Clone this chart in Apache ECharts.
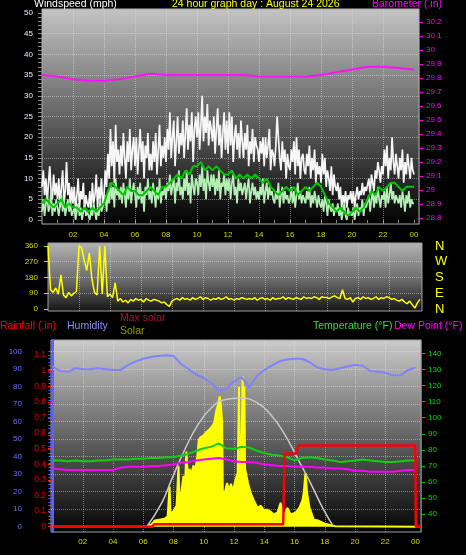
<!DOCTYPE html>
<html><head><meta charset="utf-8">
<script src="https://cdn.jsdelivr.net/npm/echarts@6/dist/echarts.min.js"></script>
<style>html,body{margin:0;padding:0;background:#000;}#c{width:466px;height:555px;}</style>
</head><body><div id="c"></div>
<script>
// ---------- DATA ----------
const hourLabels = [2,4,6,8,10,12,14,16,18,20,22,24];
const hourGridLines = [2,4,6,8,10,12,14,16,18,20,22];

// wind gust (mph), every 5 minutes from 00:00
const windGust = [
 8,12,6,10,4,9,13,7,5,11,6,9,
 5,10,3,8,12,4,7,14,6,9,3,8,
 4,8,2,6,10,3,7,5,9,2,6,4,
 3,7,2,9,4,6,11,3,8,5,10,4,
 6,12,8,16,10,22,13,19,9,23,14,17,
 11,18,13,21,15,10,19,14,22,12,17,20,
 13,20,11,17,22,14,19,10,18,15,21,12,
 16,12,19,14,21,11,17,23,13,18,15,20,
 14,22,17,26,15,20,24,13,19,25,16,21,
 18,24,15,21,27,17,23,19,26,14,22,25,
 20,26,17,23,30,19,25,21,28,18,24,22,
 19,25,16,22,27,18,23,15,21,26,17,24,
 16,26,18,25,14,20,23,17,21,15,24,19,
 15,21,17,23,13,19,16,22,14,20,18,17,
 14,19,16,20,13,20,15,18,22,12,17,16,
 13,18,25,20,15,12,19,14,17,10,16,13,
 12,17,14,19,11,20,13,17,10,15,16,12,
 11,16,13,18,10,15,12,17,9,14,11,13,
 9,16,11,15,8,12,10,7,13,6,11,8,
 7,9,5,8,3,6,4,7,3,6,5,7,
 4,7,3,6,8,5,7,6,9,6,8,7,
 7,10,6,11,9,7,12,10,14,12,9,13,
 11,17,13,18,10,15,12,20,14,11,16,13,
 10,15,12,17,9,14,11,16,13,10,15,12,
 11];

// wind speed (mph), every 5 minutes
const windSpeed = [
 2,5,1,4,6,2,3,7,1,4,2,5,
 3,1,4,6,2,5,1,3,5,2,4,1,
 1,3,0,2,4,1,3,0,2,4,1,2,
 2,0,3,1,4,2,0,3,1,5,2,3,
 3,6,2,7,4,9,5,8,3,10,6,7,
 5,8,4,9,6,3,8,5,10,4,7,9,
 6,3,8,5,9,4,7,2,8,6,10,5,
 7,4,9,6,3,8,5,10,4,7,6,8,
 5,9,7,11,6,8,10,4,9,7,12,6,
 8,5,10,7,12,6,9,4,11,8,6,10,
 9,6,11,8,13,7,10,5,12,9,7,11,
 8,11,6,10,7,12,5,9,8,11,6,10,
 7,10,5,9,11,6,8,4,10,7,9,6,
 6,9,5,8,10,4,7,9,6,8,5,7,
 5,8,6,10,4,7,9,5,8,6,7,5,
 4,7,5,9,3,6,8,4,7,5,6,4,
 5,8,4,7,3,6,9,5,7,4,6,5,
 4,7,5,8,3,6,4,7,5,3,6,4,
 3,5,2,6,4,1,5,3,2,4,1,3,
 2,4,1,3,0,2,4,1,0,3,1,2,
 1,3,0,2,4,1,3,2,5,1,4,3,
 3,6,2,5,7,3,6,4,8,5,3,6,
 5,7,3,8,4,6,9,5,7,4,6,5,
 4,6,3,7,5,2,6,4,7,3,5,4,
 4];

// average wind (mph), every 15 minutes
const windAvg = [
 4,5,4,3, 4,5,3,4, 3,3,2,3, 2,3,2,3,
 4,7,9,8, 7,6,8,7, 7,6,6,7, 8,7,6,8,
 8,9,10,11, 10,12,11,13, 13,14,12,13, 12,13,12,11,
 11,12,10,11, 10,11,10,11, 10,9,10,8, 7,6,7,8,
 7,8,6,7, 8,7,8,9, 8,6,4,3, 2,3,2,1,
 2,3,2,3, 5,7,6,8, 7,8,9,9, 8,7,8,8,
 8];

// barometer (in), hourly
const baro = [29.82,29.81,29.79,29.78,29.78,29.79,29.81,29.83,29.82,29.82,29.82,29.82,
 29.82,29.82,29.81,29.81,29.81,29.81,29.82,29.84,29.86,29.88,29.88,29.87,29.86];

// wind direction (deg), every 10 minutes
const windDir = [
 360,110,95,120,85,195,
 80,65,95,75,90,100,
 360,350,280,220,320,170,
 95,80,360,85,360,70,
 85,65,150,45,60,40,
 50,35,55,45,60,50,
 55,40,60,50,45,55,
 50,45,35,40,25,15,
 45,55,60,50,65,55,
 60,50,65,55,60,70,
 55,65,60,50,60,55,
 65,55,60,70,55,60,
 50,60,55,65,60,55,
 60,55,65,50,60,65,
 55,60,50,65,55,60,
 60,70,55,65,60,55,
 65,60,55,70,60,65,
 60,70,65,55,70,65,
 65,60,70,75,65,60,
 110,60,55,65,40,60,
 65,55,70,60,65,55,
 60,70,55,65,60,70,
 65,55,60,50,45,55,
 40,30,45,25,5,35,
 55];

// humidity (%), temperature and dew point (F), every 30 minutes
const humidity = [91.5,89,88.5,90.5,90,90,90.5,90,89.5,89.5,92.5,94.5,96,97,97.5,98,97.5,93,90,87,
 85,82,78,79,83,85.5,79.5,86,89.5,92,94.5,95.5,96,96,94,91,90,89.5,90.5,91.5,
 92.5,92,89,88.5,88,86.5,86.5,89.5,91];
const temperature = [73.5,73.5,73,73.5,73,73,73.5,73.5,74,74,74,74.5,74.5,75,75,75.5,75.5,76.5,77.5,79.5,
 81,82,84,81,80.5,82,81.5,79.5,78,77,76.5,75.5,73.5,75,75.5,75,74,73.5,72.5,73,
 73.5,74,73.5,73,72.5,72.5,73,73.5,73.5];
const dewPoint = [68.5,68,67.5,67.5,67.5,67.5,67.5,67.5,67.5,69,69.5,69.5,69.5,70,70,70.5,71,72,72.5,73.5,
 74,74.5,75,74,73,72.5,72.5,72,71,70.5,70,70,69.5,69.5,69.5,69,69,68.5,68.5,68,
 67,67,66.5,66.5,66.5,66.5,67,67.5,67.5];

// rainfall (in)
const rainTimes  = [0, 6.6, 6.7, 15.25, 15.35, 16.1, 16.25, 23.98, 24.02, 24.36];
const rainValues = [0, 0, 0.015, 0.015, 0.47, 0.47, 0.52, 0.52, 0, 0];

// solar radiation (W/m2)
const solarTimes = [0,6.23,6.36,6.56,6.75,7.08,7.41,7.61,7.74,7.8,8.0,8.2,8.33,8.39,8.52,8.66,8.75,8.85,8.95,9.05,
 9.18,9.31,9.44,9.57,9.67,9.77,9.97,10.16,10.36,10.56,10.69,10.82,10.95,11.05,11.11,11.21,11.26,11.41,11.54,11.67,
 11.8,11.93,12.07,12.24,12.33,12.39,12.49,12.57,12.62,12.68,12.73,12.92,13.11,13.31,13.55,13.77,13.97,14.21,14.43,14.62,
 14.87,15.08,15.18,15.3,15.52,15.74,16.07,16.33,16.52,16.61,16.72,16.83,16.98,17.27,17.57,17.92,18.36,18.69,18.82,24.36];
const solarValues = [0,0,5,15,35,40,45,60,230,70,90,120,345,150,200,290,220,430,280,330,
 300,350,320,400,497,510,520,540,555,575,594,660,700,745,720,600,194,200,250,210,
 245,200,260,308,800,400,420,860,420,800,330,250,190,150,108,120,95,97,85,70,
 80,137,90,60,108,70,80,110,150,194,306,194,110,40,35,20,10,3,0,0];

// maximum solar radiation (W/m2)
const maxSolarTimes  = [6.23,7.21,7.87,8.74,9.62,10.49,11.36,12.46,13.55,14.43,15.3,16.18,17.05,17.92,18.58];
const maxSolarValues = [0,135,269,440,583,678,726,735,707,640,535,393,250,97,0];

// ---------- CHART ----------
const FONT = '"Liberation Sans", Arial, sans-serif';
const pad2 = v => { const h = Math.round(v) % 24; return (h < 10 ? '0' : '') + h; };
const fmt1 = v => String(+(+v).toFixed(1));
const range = (a, b, s) => { const r = []; for (let i = 0; Math.round((a + i * s) * 100) / 100 <= b; i++) r.push(Math.round((a + i * s) * 100) / 100); return r; };

const pairs = (arr, step) => arr.map((v, i) => [i * step, v]);
const zip = (ts, vs) => ts.map((t, i) => [t, vs[i]]);

const grad = (c0, c1, c2) => ({type:'linear', x:0, y:0, x2:0, y2:1,
  colorStops:[{offset:0, color:c0},{offset:0.55, color:c1},{offset:1, color:c2}]});

const gridLineStyle = {color:'rgba(235,235,235,0.45)', type:'dotted', width:1};
const gridMarks = (xs, ys) => ({silent:true, symbol:'none', z:1, animation:false,
  label:{show:false}, lineStyle:gridLineStyle, emphasis:{disabled:true},
  data:[...xs.map(v => ({xAxis:v})), ...ys.map(v => ({yAxis:v}))]});

const xLabelStyle = {color:'#d8d800', fontSize:8, fontFamily:FONT};

const option = {
  backgroundColor:'#000',
  animation:false,
  grid:[
    {left:42, top:9, width:377, height:215, show:true, backgroundColor:grad('#c4c4c4','#5a5a5a','#000000'), borderColor:'#b0b0b0', borderWidth:1},
    {left:48, top:243, width:374, height:68, show:true, backgroundColor:grad('#b4b4b4','#6a6a6a','#151515'), borderColor:'#a0a0a0', borderWidth:1},
    {left:51, top:340, width:370, height:192, show:true, backgroundColor:grad('#cccccc','#5a5a5a','#050505'), borderColor:'#a0a0a0', borderWidth:1}
  ],
  xAxis:[
    {type:'value', gridIndex:0, min:0, max:24.32, axisLine:{show:false}, splitLine:{show:false},
     axisTick:{show:true, customValues:range(1,24,1), length:3, lineStyle:{color:'#888'}},
     axisLabel:Object.assign({customValues:hourLabels, formatter:pad2, margin:7}, xLabelStyle)},
    {type:'value', gridIndex:1, min:0, max:24.13, axisLine:{show:false}, splitLine:{show:false},
     axisTick:{show:false}, axisLabel:{show:false}},
    {type:'value', gridIndex:2, min:-0.1, max:24.36, axisLine:{show:false}, splitLine:{show:false},
     axisTick:{show:false},
     axisLabel:Object.assign({customValues:hourLabels, formatter:pad2, margin:6}, xLabelStyle)}
  ],
  yAxis:[
    {type:'value', gridIndex:0, position:'left', min:-0.97, max:50.97, splitLine:{show:false},
     axisLine:{show:false},
     axisTick:{show:true, customValues:range(0,50,1), length:4, lineStyle:{color:'#8a8a8a'}},
     axisLabel:{customValues:range(0,50,5), color:'#e8eeff', fontSize:8, fontFamily:FONT, margin:9}},
    {type:'value', gridIndex:0, position:'right', min:28.759, max:30.291, splitLine:{show:false},
     axisLine:{show:true, lineStyle:{color:'#ff00ff', type:'dotted'}},
     axisTick:{show:true, customValues:range(28.8,30.2,0.1), length:4, lineStyle:{color:'#ff00ff'}},
     axisLabel:{customValues:range(28.8,30.2,0.1), formatter:fmt1, color:'#ff00ff', fontSize:8, fontFamily:FONT, margin:7}},
    {type:'value', gridIndex:1, position:'left', min:-11.4, max:377, splitLine:{show:false},
     axisLine:{show:false},
     axisTick:{show:true, customValues:[0,90,180,270,360], length:4, lineStyle:{color:'#d8d800'}},
     axisLabel:{customValues:[0,90,180,270,360], color:'#d8d800', fontSize:8, fontFamily:FONT, margin:10}},
    {type:'value', gridIndex:1, position:'right', min:-11.4, max:377, splitLine:{show:false},
     axisLine:{show:false}, axisTick:{show:false},
     axisLabel:{customValues:[0,90,180,270,360], formatter:v => ({0:'N',90:'E',180:'S',270:'W',360:'N'})[Math.round(v)],
       color:'#ffff00', fontSize:13, fontFamily:FONT, margin:13}},
    {type:'value', gridIndex:2, position:'left', offset:21, min:-3.03, max:106.7, splitLine:{show:false},
     axisLine:{show:true, lineStyle:{color:'#6060ff', width:2}},
     axisTick:{show:true, customValues:range(0,100,2), length:4, lineStyle:{color:'#6060ff'}},
     axisLabel:{customValues:range(0,100,10), color:'#6c6cff', fontSize:8, fontFamily:FONT, margin:8}},
    {type:'value', gridIndex:2, position:'left', offset:0, min:-0.034, max:1.197, splitLine:{show:false},
     axisLine:{show:true, lineStyle:{color:'#ff2020', type:'dotted'}},
     axisTick:{show:true, customValues:range(0,1.1,0.1), length:3, lineStyle:{color:'#ff2020'}},
     axisLabel:{customValues:range(0,1.1,0.1), formatter:fmt1, color:'#e00000', fontSize:8.5, fontFamily:FONT, margin:5}},
    {type:'value', gridIndex:2, position:'right', min:29.0, max:148.3, splitLine:{show:false},
     axisLine:{show:true, lineStyle:{color:'#00cc00', type:'dotted'}},
     axisTick:{show:true, customValues:range(40,140,10), length:4, lineStyle:{color:'#00cc00'}},
     axisLabel:{customValues:range(40,140,10), color:'#00dd00', fontSize:8, fontFamily:FONT, margin:7}},
    {type:'value', gridIndex:2, show:false, min:-30.3, max:1067, splitLine:{show:false}}
  ],
  series:[
    {name:'Gust', type:'line', xAxisIndex:0, yAxisIndex:0, data:pairs(windGust, 1/12), showSymbol:false, z:3,
     lineStyle:{color:'#f6f6f6', width:1.7}, markLine:gridMarks(hourGridLines, range(5,45,5))},
    {name:'Speed', type:'line', xAxisIndex:0, yAxisIndex:0, data:pairs(windSpeed, 1/12), showSymbol:false, z:4,
     lineStyle:{color:'#b4f0b4', width:1.7}},
    {name:'Average', type:'line', xAxisIndex:0, yAxisIndex:0, data:pairs(windAvg, 1/4), showSymbol:false, z:5,
     lineStyle:{color:'#00c800', width:2}},
    {name:'Barometer', type:'line', xAxisIndex:0, yAxisIndex:1, data:pairs(baro, 1), showSymbol:false, z:6,
     lineStyle:{color:'#ff10ff', width:2}},
    {name:'Direction', type:'line', xAxisIndex:1, yAxisIndex:2, data:pairs(windDir, 1/6), showSymbol:false, z:3,
     lineStyle:{color:'#ffff00', width:1.5}, markLine:gridMarks(hourGridLines, [90,180,270])},
    {name:'Solar', type:'line', xAxisIndex:2, yAxisIndex:7, data:zip(solarTimes, solarValues), showSymbol:false, z:3,
     lineStyle:{color:'#ffff00', width:2}, areaStyle:{color:'#ffff00', opacity:1}},
    {name:'Max solar', type:'line', xAxisIndex:2, yAxisIndex:7, data:zip(maxSolarTimes, maxSolarValues), showSymbol:false, smooth:true, z:4,
     lineStyle:{color:'#c8c8c8', width:1.5}},
    {name:'Temperature', type:'line', xAxisIndex:2, yAxisIndex:6, data:pairs(temperature, 0.5), showSymbol:false, z:5,
     lineStyle:{color:'#10d010', width:2}},
    {name:'Dew Point', type:'line', xAxisIndex:2, yAxisIndex:6, data:pairs(dewPoint, 0.5), showSymbol:false, z:5,
     lineStyle:{color:'#ff00ff', width:2}},
    {name:'Humidity', type:'line', xAxisIndex:2, yAxisIndex:4, data:pairs(humidity, 0.5), showSymbol:false, z:6,
     lineStyle:{color:'#8282ff', width:2}, markLine:gridMarks(hourGridLines, range(10,100,10))},
    {name:'Rainfall', type:'line', xAxisIndex:2, yAxisIndex:5, data:zip(rainTimes, rainValues), showSymbol:false, z:7,
     lineStyle:{color:'#ff0000', width:2.5}}
  ],
  graphic:[
    {type:'text', x:34, y:-1, style:{text:'Windspeed (mph)', fill:'#ffffff', font:'10.5px ' + FONT, verticalAlign:'top'}},
    {type:'text', x:172, y:-1, style:{text:'24 hour graph day : August 24 2026', fill:'#ffff00', font:'10.5px ' + FONT, verticalAlign:'top'}},
    {type:'text', x:372, y:-1, style:{text:'Barometer (.in)', fill:'#ff00ff', font:'10.5px ' + FONT, verticalAlign:'top'}},
    {type:'text', x:0, y:321, style:{text:'Rainfall (.in)', fill:'#ff0000', font:'10.5px ' + FONT, verticalAlign:'top'}},
    {type:'text', x:67, y:321, style:{text:'Humidity', fill:'#8c8cff', font:'10.5px ' + FONT, verticalAlign:'top'}},
    {type:'text', x:120, y:313, style:{text:'Max solar', fill:'#b01038', font:'10.5px ' + FONT, verticalAlign:'top'}},
    {type:'text', x:120, y:326, style:{text:'Solar', fill:'#9a9a00', font:'10.5px ' + FONT, verticalAlign:'top'}},
    {type:'text', x:313, y:321, style:{text:'Temperature (°F)', fill:'#33e033', font:'10.5px ' + FONT, verticalAlign:'top'}},
    {type:'text', x:394, y:321, style:{text:'Dew Point (°F)', fill:'#ff00ff', font:'10.5px ' + FONT, verticalAlign:'top'}}
  ]
};

const chart = echarts.init(document.getElementById('c'), null, {renderer:'canvas', width:466, height:555});
chart.setOption(option);
</script>
</body></html>
